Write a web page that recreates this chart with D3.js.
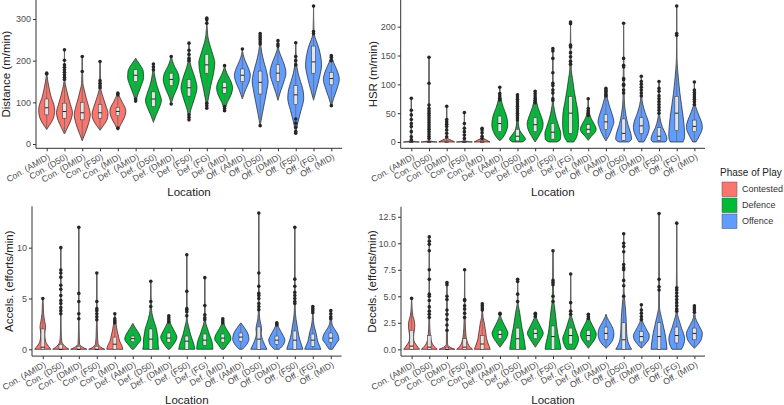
<!DOCTYPE html>
<html><head><meta charset="utf-8">
<script src="https://cdn.jsdelivr.net/npm/d3@7"></script>
<style>body{margin:0;background:#fff} svg{display:block}</style>
</head><body><svg id="c" width="784" height="405"></svg>
<script>
const categories = ["Con. (AMID)","Con. (D50)","Con. (DMID)","Con. (F50)","Con. (MID)",
  "Def. (AMID)","Def. (D50)","Def. (DMID)","Def. (F50)","Def. (FG)","Def. (MID)",
  "Off. (AMID)","Off. (D50)","Off. (DMID)","Off. (F50)","Off. (FG)","Off. (MID)"];
const catPhase = [0,0,0,0,0,1,1,1,1,1,1,2,2,2,2,2,2];
const phaseNames = ["Contested","Defence","Offence"];
const phaseColors = ["#F8766D","#00BA38","#619CFF"];

// Violin density profiles: [value, relative width]
const distShape = [
 [[35,0],[45,0.35],[60,0.8],[80,1],[95,0.9],[110,0.6],[130,0.35],[150,0.15],[170,0]],
 [[24,0],[40,0.4],[60,0.85],[75,1],[95,0.75],[115,0.45],[135,0.2],[150,0.06],[170,0.02],[226,0]],
 [[8,0],[25,0.35],[50,0.8],[70,1],[90,0.8],[110,0.5],[130,0.25],[145,0.08],[210,0]],
 [[33,0],[45,0.45],[60,0.9],[72,1],[88,0.8],[105,0.5],[120,0.25],[135,0.08],[198,0]],
 [[33,0],[50,0.45],[65,0.85],[78,1],[90,0.85],[100,0.55],[110,0.3],[122,0]],
 [[102,0],[120,0.3],[140,0.7],[160,1],[175,0.95],[190,0.55],[200,0.2],[206,0]],
 [[52,0],[70,0.35],[90,0.8],[105,1],[120,0.8],[140,0.45],[160,0.2],[180,0.05],[192,0]],
 [[96,0],[115,0.3],[135,0.75],[155,1],[170,0.85],[185,0.45],[200,0.15],[212,0]],
 [[56,0],[80,0.2],[110,0.7],[135,1],[155,0.8],[175,0.45],[195,0.15],[242,0]],
 [[86,0],[110,0.2],[140,0.5],[170,0.85],[195,1],[215,0.75],[240,0.35],[260,0.12],[302,0]],
 [[80,0],[100,0.35],[120,0.85],[135,1],[150,0.8],[165,0.4],[180,0.1],[188,0]],
 [[108,0],[130,0.4],[150,0.85],[165,1],[180,0.8],[200,0.35],[215,0.1],[228,0]],
 [[44,0],[70,0.25],[100,0.55],[130,0.85],[150,1],[170,0.85],[195,0.5],[220,0.2],[265,0]],
 [[105,0],[125,0.3],[150,0.75],[170,1],[190,0.8],[210,0.4],[225,0.12],[248,0]],
 [[26,0],[50,0.25],[80,0.65],[110,1],[130,0.9],[150,0.6],[170,0.3],[195,0.1],[243,0]],
 [[105,0],[130,0.35],[160,0.75],[190,1],[215,0.85],[240,0.5],[255,0.2],[270,0.06],[331,0]],
 [[90,0],[110,0.3],[135,0.75],[155,1],[175,0.75],[195,0.3],[212,0]]
];
const distBox = [[70,87,108],[62,78,98],[58,75,100],[62,75,95],[68,78,88],[150,165,178],[90,108,125],[140,155,170],
 [115,135,155],[170,190,215],[122,135,148],[150,165,180],[120,148,175],[150,170,190],[95,118,140],[170,197,235],[142,157,172]];
const distOut = [[168,170],[226,201,190,184,178,172,166,160,155],[210,174],[198,152,146,140,135],[122,118,38],[103,108],
 [192,185,178],[96,210],[242,225,215,205,200,70,64,58],[302,298,290,98,92,86],[188,90,85,80],[228],
 [265,260,255,250,245,240,44],[248,240,235],[243,210,200,190,60,50,40,30,26],[331,270,265],[212,208,200,92]];

const hsrShape = [
 [[0,1],[1,0.4],[3,0.05],[76,0]],
 [[0,1],[1,0.4],[3,0.05],[147,0]],
 [[0,1],[3,0.6],[6,0.15],[10,0.03],[62,0]],
 [[0,1],[1,0.4],[3,0.05],[51,0]],
 [[0,1],[3,0.6],[6,0.2],[9,0.05],[24,0]],
 [[2,0],[8,0.4],[18,0.8],[30,1],[45,0.85],[60,0.45],[75,0.15],[95,0]],
 [[0,0.6],[5,1],[12,0.7],[20,0.3],[35,0.1],[55,0.03],[82,0]],
 [[0,0],[10,0.45],[25,0.95],[32,1],[45,0.75],[60,0.35],[75,0.1],[88,0]],
 [[0,0.5],[5,0.95],[15,1],[25,0.8],[40,0.45],[55,0.2],[70,0.06],[162,0]],
 [[0,0.4],[10,0.8],[30,1],[50,0.95],[70,0.7],[90,0.45],[110,0.25],[125,0.1],[208,0]],
 [[3,0],[10,0.4],[18,0.9],[22,1],[30,0.8],[40,0.4],[50,0.15],[75,0]],
 [[2,0],[10,0.35],[25,0.8],[35,1],[45,0.85],[60,0.5],[75,0.2],[93,0]],
 [[0,0.6],[5,1],[15,0.9],[30,0.55],[50,0.25],[75,0.08],[206,0]],
 [[0,0.3],[10,0.7],[25,1],[35,0.9],[50,0.5],[65,0.2],[80,0.05],[114,0]],
 [[0,0.8],[5,1],[15,0.8],[25,0.45],[40,0.15],[55,0.04],[105,0]],
 [[0,0.8],[10,1],[25,0.95],[45,0.8],[65,0.6],[85,0.4],[105,0.25],[125,0.12],[148,0.03],[236,0]],
 [[0,0.2],[10,0.6],[25,1],[32,0.95],[45,0.6],[60,0.2],[70,0.05],[104,0]]
];
const hsrBox = [[0,0,0],[0,0,0],[0,0,2],[0,0,0],[0,0,2],[18,32,45],[2,10,22],[18,30,42],[5,17,32],[15,50,79],
 [15,22,30],[22,35,48],[3,15,40],[15,28,42],[3,10,25],[20,50,79],[18,27,38]];
const hsrOut = [[76,55,47,39,32,27,18,9,4],[147,102,64,58,54,50,46,42,38,34,30,26,22,18,14,10,6],[62,39,35,31,27,21,15,9],
 [51,32,24,18,12,6],[24,21,16,10,6],[95,84,80,76,73],[82,78,74,70,66,62,58,54,50,46,42,38],[88,84,80,76,72,68],
 [162,158,145,120,102,98,90,85,75,72],[208,205,168,165,155,148,140,135],[75,58,54,50,46],[93,90,88,85,82,80],
 [206,145,133,130,110,108,100,98,90,85],[114,105,100,95,90,85,80],[105,93,88,80,75,70,65,60,55,50],[236,188,185],
 [104,90,86,82,78,74,70,65]];

const accShape = [
 [[0,1],[0.3,0.7],[0.8,0.35],[1.5,0.25],[2.2,0.35],[2.7,0.25],[3.5,0.1],[4.5,0.05],[5,0]],
 [[0,1],[0.3,0.5],[0.8,0.12],[1.5,0.05],[3,0.02],[10,0]],
 [[0,1],[0.2,0.5],[0.5,0.1],[1.5,0.05],[3,0.02],[12,0]],
 [[0,1],[0.2,0.5],[0.6,0.15],[1.5,0.08],[2.5,0.04],[7.5,0]],
 [[0,1],[0.4,0.85],[0.8,0.6],[1.3,0.45],[1.8,0.3],[2.5,0.15],[3.5,0]],
 [[0,0.1],[0.5,0.6],[1.0,1],[1.5,0.8],[2.0,0.4],[2.55,0]],
 [[0,1],[0.5,0.9],[1.0,0.9],[1.5,0.8],[2,0.7],[2.5,0.5],[3,0.3],[4,0.08],[6.7,0]],
 [[0,0.1],[0.5,0.6],[1,0.95],[1.2,1],[1.7,0.75],[2.3,0.35],[2.8,0.1],[3.3,0]],
 [[0,1],[0.4,0.9],[0.9,0.7],[1.5,0.45],[2,0.3],[2.5,0.15],[3,0.05],[9.3,0]],
 [[0,1],[0.5,0.95],[1,0.8],[1.5,0.55],[2,0.35],[2.5,0.15],[3,0.05],[7.05,0]],
 [[0,0.15],[0.5,0.6],[1,1],[1.3,0.95],[1.8,0.6],[2.3,0.25],[3,0]],
 [[0,0.2],[0.5,0.75],[1,1],[1.5,0.9],[2,0.55],[2.4,0.2],[2.6,0]],
 [[0,1],[0.5,0.7],[1,0.45],[1.5,0.3],[2,0.35],[2.5,0.25],[3,0.12],[4,0.05],[13.4,0]],
 [[0,0.3],[0.5,0.85],[0.9,1],[1.4,0.75],[1.9,0.4],[2.3,0.15],[2.6,0]],
 [[0,1],[0.5,0.8],[1,0.6],[1.5,0.45],[2,0.35],[2.5,0.25],[3,0.15],[4,0.05],[12,0]],
 [[0,1],[0.4,0.8],[0.8,0.6],[1.2,0.5],[1.6,0.4],[2.2,0.2],[2.8,0.08],[4.2,0]],
 [[0,0.2],[0.6,0.7],[1,1],[1.5,0.85],[2,0.45],[2.5,0.15],[3.8,0]]
];
const accBox = [[0,0.2,2.0],[0,0,0.5],[0,0,0.3],[0,0,0.3],[0,0.5,1.2],[0.75,1.05,1.3],[0,1.0,2.0],[0.7,1.1,1.6],
 [0,0.8,1.3],[0.4,0.9,1.5],[0.7,1.1,1.5],[0.8,1.2,1.6],[0,1.0,2.2],[0.5,0.9,1.3],[0,0.9,1.8],[0.3,0.9,1.5],[0.7,1.1,1.6]];
const accOut = [[5.0],[10,7.8,7.5,7.1,6.3,5.9,5.3,4.8,4.5,4.1,3.8,3.5],[12,5.5,4.7,3.5,3.0],[7.5,4.7,4.0,3.8,3.5,3.2,2.9],
 [3.5,3.0,2.8,2.6],[],[6.7,4.7,4.2],[3.3,3.1,2.9,2.7],[9.3,5.7,4.0,3.9,3.7,3.3],[7.05,4.3,3.4,3.1,2.9],[3.0,2.8,2.6],[],
 [13.4,7.5,6.2,5.5,5.3,5.0,4.5,4.2,3.9],[2.6,2.5,2.4],[12,6.9,6.2,5.6,5.3,5.0,4.7,4.5],[4.2,4.0,3.8,3.6],[3.8,3.5,3.2,3.0]];

const decShape = [
 [[0,1],[0.4,0.6],[0.8,0.3],[1.2,0.25],[1.8,0.35],[2.3,0.4],[2.8,0.3],[3.2,0.15],[4,0.05],[4.8,0]],
 [[0,1],[0.3,0.6],[0.8,0.25],[1.5,0.12],[2.5,0.05],[10.6,0]],
 [[0,1],[0.2,0.4],[0.5,0.08],[6.3,0]],
 [[0,1],[0.3,0.6],[0.8,0.3],[1.5,0.15],[2.5,0.08],[7.5,0]],
 [[0,1],[0.5,0.75],[1,0.55],[1.5,0.45],[2,0.35],[2.5,0.25],[3,0.1],[4.3,0]],
 [[0.2,0],[0.6,0.4],[1.2,0.9],[1.5,1],[2,0.75],[2.6,0.35],[3.2,0.05],[3.4,0]],
 [[0,1],[0.5,0.9],[1,0.8],[1.5,0.7],[2,0.55],[2.5,0.45],[3,0.35],[3.5,0.25],[4,0.12],[4.5,0.04],[6.6,0]],
 [[0.2,0],[0.6,0.35],[1.2,0.85],[1.5,1],[2,0.75],[2.6,0.35],[3.2,0.05],[3.4,0]],
 [[0,1],[0.5,0.9],[1,0.75],[1.5,0.6],[2,0.5],[3,0.35],[4,0.2],[4.5,0.1],[9.3,0]],
 [[0,0.5],[0.5,0.85],[1,1],[1.5,0.8],[2,0.55],[2.5,0.35],[3,0.15],[3.5,0.04],[7.1,0]],
 [[0.1,0],[0.5,0.4],[1,0.85],[1.4,1],[2,0.7],[2.5,0.35],[3,0.1],[3.3,0]],
 [[0.1,0],[0.5,0.5],[1,0.9],[1.5,1],[2,0.85],[2.5,0.5],[3,0.15],[3.3,0]],
 [[0,1],[0.4,0.7],[1,0.45],[2,0.35],[3,0.3],[4,0.2],[4.8,0.1],[6,0.03],[10.9,0]],
 [[0.1,0],[0.5,0.5],[1,0.95],[1.3,1],[1.8,0.7],[2.3,0.35],[2.8,0.1],[4.2,0]],
 [[0,1],[0.5,0.95],[1,0.85],[1.5,0.75],[2,0.6],[2.5,0.45],[3,0.3],[3.5,0.15],[4,0.05],[12.8,0]],
 [[0,0.6],[0.5,0.9],[1,1],[1.5,0.85],[2,0.6],[2.5,0.4],[3,0.2],[3.5,0.08],[11.9,0]],
 [[0.1,0],[0.5,0.5],[1,0.9],[1.5,1],[2,0.75],[2.5,0.4],[3,0.12],[4.1,0]]
];
const decBox = [[0,0.3,1.8],[0,0.2,1.3],[0,0,0.2],[0,0.2,1.0],[0,0.5,1.3],[1.0,1.4,1.8],[0,1.0,2.0],[1.0,1.5,1.9],
 [0,1.2,2.2],[0.5,1.3,2.0],[0.8,1.3,1.8],[0.9,1.5,2.1],[0,0.9,2.5],[0.7,1.2,1.7],[0,1.2,2.5],[0.6,1.3,2.1],[0.9,1.5,2.0]];
const decOut = [[4.8],[10.6,10.2,9.9,9.3,7.5,6.6,5.2,5.0,4.6,4.0,3.6,3.3,3.0],[6.3,6.1,5.0,4.7,3.7,3.3,2.8,2.3,1.8],
 [7.5,4.7,4.6,4.1,3.8,3.4,3.0],[4.3,4.1,3.9,3.7],[3.4,3.3],[6.6,6.4,5.2,4.5],[3.4,3.3,3.1],[9.3,6.5,6.3,6.1,5.0,4.5],
 [7.1,4.4,3.6,3.3],[3.3,3.1,2.9],[],[10.9,10.0,9.7,9.2,8.0,7.7,7.5,6.5,6.0,5.0],[4.2,3.7,3.4,3.1,2.8],[12.8,6.6,5.9,5.6],
 [11.9,5.8,5.6,5.3,5.0,4.7,4.4,4.1,3.8,3.6],[4.1,3.9,3.7,3.5]];

const distTicks = [0,100,200,300];
const hsrTicks = [0,50,100,150,200];
const accTicks = [0,5,10];
const decTicks = [0,2.5,5,7.5,10,12.5];

const FONT = "'Liberation Sans', Arial, sans-serif";
const svg = d3.select("#c");

const panels = [
 {shape:distShape, box:distBox, out:distOut, domain:[-10.3,345.6], ticks:distTicks, fmt:d3.format("d"),
  x0:36, x1:342, yTop:0, yBot:148.3, title:"Distance (m/min)", titleX:6},
 {shape:hsrShape, box:hsrBox, out:hsrOut, domain:[-10.9,246.3], ticks:hsrTicks, fmt:d3.format("d"),
  x0:400.7, x1:705, yTop:0, yBot:148.3, title:"HSR (m/min)", titleX:373},
 {shape:accShape, box:accBox, out:accOut, domain:[-0.67,14.07], ticks:accTicks, fmt:d3.format("d"),
  x0:32, x1:341.6, yTop:206.3, yBot:356.1, title:"Accels. (efforts/min)", titleX:9},
 {shape:decShape, box:decBox, out:decOut, domain:[-0.64,13.44], ticks:decTicks, fmt:d3.format(".1f"),
  x0:401, x1:705, yTop:206.8, yBot:356.1, title:"Decels. (efforts/min)", titleX:372}
];

panels.forEach(p => {
  const x = d3.scalePoint().domain(categories).range([p.x0, p.x1]).padding(0.6);
  const y = d3.scaleLinear().domain(p.domain).range([p.yBot, p.yTop]);
  const hw = x.step() * 0.45;
  const bw = 1.8;
  const g = svg.append("g");

  categories.forEach((c, i) => {
    const cx = x(c);
    const sh = p.shape[i];
    const area = d3.area()
      .y(d => y(d[0]))
      .x0(d => cx - hw * d[1])
      .x1(d => cx + hw * d[1])
      .curve(d3.curveMonotoneY);
    g.append("path").attr("d", area(sh))
      .attr("fill", phaseColors[catPhase[i]])
      .attr("stroke", "#111").attr("stroke-width", 0.65);
    const allV = sh.map(d => d[0]).concat(p.out[i]);
    const lo = d3.min(allV), hi = d3.max(allV);
    g.append("line").attr("x1", cx).attr("x2", cx).attr("y1", y(lo)).attr("y2", y(hi))
      .attr("stroke", "#6e6e6e").attr("stroke-width", 0.9);
    const b = p.box[i];
    g.append("rect").attr("x", cx - bw).attr("width", bw * 2)
      .attr("y", y(b[2])).attr("height", Math.max(0.5, y(b[0]) - y(b[2])))
      .attr("fill", "#e4e4e4").attr("stroke", "#333").attr("stroke-width", 0.5);
    g.append("line").attr("x1", cx - bw).attr("x2", cx + bw).attr("y1", y(b[1])).attr("y2", y(b[1]))
      .attr("stroke", "#111").attr("stroke-width", 0.9);
    g.selectAll(null).data(p.out[i]).enter().append("circle")
      .attr("cx", cx).attr("cy", d => y(d)).attr("r", 1.8).attr("fill", "#262626");
  });

  // y axis
  const ya = g.append("g").attr("transform", `translate(${p.x0},0)`)
    .call(d3.axisLeft(y).tickValues(p.ticks).tickFormat(p.fmt).tickSize(3).tickSizeOuter(0).tickPadding(2));
  ya.select(".domain").attr("stroke", "#333").attr("stroke-width", 1)
    .attr("d", `M0,${p.yTop}V${p.yBot}`);
  ya.selectAll(".tick line").attr("stroke", "#333");
  ya.selectAll(".tick text").attr("font-family", FONT).attr("font-size", 9).attr("fill", "#4d4d4d");

  // x axis
  const xa = g.append("g").attr("transform", `translate(0,${p.yBot})`)
    .call(d3.axisBottom(x).tickSize(3).tickSizeOuter(0));
  xa.select(".domain").attr("stroke", "#333").attr("stroke-width", 1).attr("d", `M${p.x0},0H${p.x1}`);
  xa.selectAll(".tick line").attr("stroke", "#333");
  xa.selectAll(".tick text")
    .attr("font-family", FONT).attr("font-size", 8.7).attr("fill", "#4d4d4d")
    .attr("text-anchor", "end").attr("y", 0).attr("dy", "0.75em")
    .attr("transform", "translate(0,4.5) rotate(-30)");

  // titles
  svg.append("text").attr("font-family", FONT).attr("font-size", 11.5).attr("fill", "#222")
    .attr("text-anchor", "middle")
    .attr("transform", `translate(${p.titleX},${(p.yTop + p.yBot) / 2}) rotate(-90)`)
    .attr("dy", "0.35em").text(p.title);
  svg.append("text").attr("font-family", FONT).attr("font-size", 11.5).attr("fill", "#222")
    .attr("text-anchor", "middle").attr("x", (p.x0 + p.x1) / 2).attr("y", p.yBot + 48)
    .text("Location");
});

// legend
const lg = svg.append("g");
lg.append("text").attr("x", 720).attr("y", 175.5).attr("font-family", FONT).attr("font-size", 10)
  .attr("fill", "#222").text("Phase of Play");
phaseNames.forEach((n, i) => {
  const cy = 189.3 + i * 16;
  lg.append("rect").attr("x", 722).attr("y", cy - 7.3).attr("width", 15).attr("height", 14.6)
    .attr("fill", phaseColors[i]).attr("stroke", "#555").attr("stroke-width", 0.5);
  lg.append("text").attr("x", 742).attr("y", cy).attr("dy", "0.35em")
    .attr("font-family", FONT).attr("font-size", 9).attr("fill", "#333").text(n);
});
</script></body></html>
